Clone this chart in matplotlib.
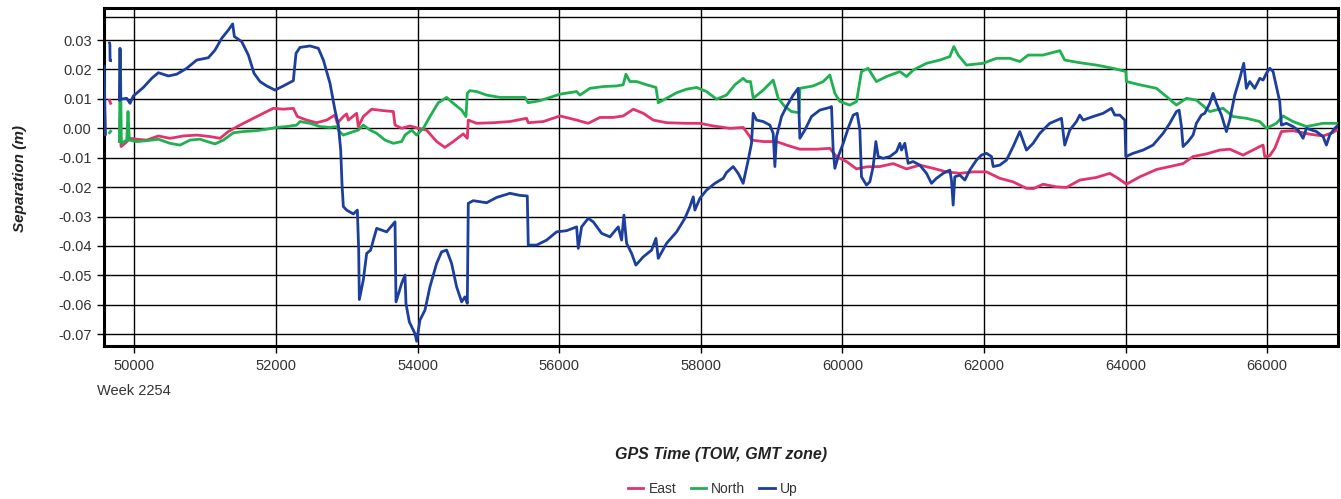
import numpy as np
import matplotlib
matplotlib.use("Agg")
import matplotlib.pyplot as plt

nan = np.nan

# GPS time of week (s) and separation (m) for each component
up_t = [49575, 49590, nan, 49650, 49655, 49658, 49665, nan,
        49789, 49798, 49808, 49893, 49940, 49987, 50128, 50246, 50340, 50481, 50599, 50740,
        50881, 51046, 51140, 51234, 51328, 51389, 51413, 51516, 51611, 51691, 51775, 51870,
        51987, 52105, 52246, 52284, 52340, 52481, 52599, 52670, 52764, 52834, 52882, 52915,
        52933, 52952, 52999, 53093, 53150, 53169, 53178, 53234, 53282, 53338, 53376, 53423,
        53493, 53564, 53682, 53696, 53776, 53823, 53837, 53884, 53964, 53988,
        54034, 54105, 54175, 54270, 54340, 54411, 54481, 54552, 54623, 54670, 54703, 54717,
        54787, 54976, 55117, 55305, 55446, 55550, 55564, 55682, 55823, 55964, 56105, 56247,
        56270, 56317, 56411, 56482, 56600, 56717, 56835, 56882, 56915, 56953, 57023, 57084,
        57188, 57306, 57367, 57400, 57517, 57659, 57776, 57847, 57894, 57917, 57988, 58082,
        58200, 58317, 58365,
        58458, 58529, 58599, 58670, 58717, 58741, 58788, 58882, 58976, 59023, 59047, 59070,
        59141, 59211, 59306, 59376, 59400, 59470, 59564, 59682, 59823, 59847, 59870, 59894,
        59941, 60012, 60082, 60153, 60209, 60247, 60270, 60341, 60388, 60435, 60473, 60506,
        60576, 60671, 60765, 60812, 60835, 60882, 60929, 60999, 61094, 61188, 61259, 61329,
        61424, 61518, 61541, 61565, 61588, 61659, 61730, 61800, 61894, 61965, 62036, 62106,
        62130, 62224, 62318, 62412, 62506, 62600, 62694, 62789,
        62929, 63094, 63141, 63212, 63306, 63353, 63400, 63541, 63683, 63800, 63847, 63918,
        63989, 64003, 64106, 64247, 64388, 64530, 64624, 64718, 64756, 64789, 64812, 64883,
        64953, 65000, 65071, 65118, 65189, 65236, 65283, 65354, 65424, 65471, 65542, 65613,
        65669, 65706, 65754, 65824, 65895, 65942, 65989, 66036, 66083, 66130, 66177, 66201,
        66271, 66365, 66436, 66507, 66554, 66695, 66789, 66836, 66883, 66954, 67001]
up_v = [0.021, -0.002, nan, 0.029, 0.0285, 0.023, 0.023, nan,
        0.0096, 0.0272, 0.0099, 0.0102, 0.0085, 0.0110, 0.0139, 0.0170, 0.0189, 0.0178, 0.0184, 0.0204,
        0.0232, 0.0240, 0.0266, 0.0306, 0.0334, 0.0355, 0.0312, 0.0295, 0.0249, 0.0187, 0.0159, 0.0144,
        0.0130, 0.0144, 0.0162, 0.0255, 0.0275, 0.0280, 0.0272, 0.0232, 0.0153, 0.0062, 0.0011, -0.0074,
        -0.0187, -0.0266, -0.0278, -0.0291, -0.0278, -0.0414, -0.0582, -0.0516, -0.0425, -0.0414, -0.0380, -0.0340,
        -0.0346, -0.0352, -0.0318, -0.0590, -0.0527, -0.0499, -0.0596, -0.0658, -0.0698, -0.0724,
        -0.0652, -0.0618, -0.0539, -0.0459, -0.0420, -0.0414, -0.0459, -0.0539, -0.0590, -0.0573, -0.0595, -0.0255,
        -0.0246, -0.0253, -0.0235, -0.0221, -0.0228, -0.0230, -0.0397, -0.0397, -0.0380, -0.0352, -0.0348, -0.0335,
        -0.0408, -0.0335, -0.0306, -0.0318, -0.0357, -0.0369, -0.0335, -0.0380, -0.0295, -0.0391, -0.0425, -0.0465,
        -0.0437, -0.0414, -0.0374, -0.0442, -0.0391, -0.0352, -0.0306, -0.0266, -0.0233, -0.0278, -0.0238, -0.0210,
        -0.0187, -0.0170, -0.0150,
        -0.0130, -0.0153, -0.0187, -0.0108, -0.0051, 0.0051, 0.0028, 0.0023, 0.0011, -0.0017, -0.0130, -0.0028,
        0.0040, 0.0074, 0.0113, 0.0136, -0.0034, -0.0006, 0.0040, 0.0062, 0.0071, 0.0074, -0.0074, -0.0136,
        -0.0096, -0.0051, 0.0000, 0.0045, 0.0051, -0.0006, -0.0165, -0.0193, -0.0182, -0.0130, -0.0045, -0.0096,
        -0.0102, -0.0096, -0.0079, -0.0051, -0.0074, -0.0051, -0.0119, -0.0113, -0.0125, -0.0153, -0.0187, -0.0170,
        -0.0153, -0.0142, -0.0176, -0.0261, -0.0165, -0.0159, -0.0176, -0.0142, -0.0108, -0.0091, -0.0085, -0.0096,
        -0.0130, -0.0125, -0.0108, -0.0062, -0.0011, -0.0074, -0.0051, -0.0017,
        0.0017, 0.0034, -0.0057, -0.0006, 0.0023, 0.0045, 0.0028, 0.0040, 0.0051, 0.0068, 0.0045, 0.0045,
        0.0028, -0.0096, -0.0085, -0.0074, -0.0057, -0.0017, 0.0017, 0.0057, 0.0062, 0.0006, -0.0062, -0.0045,
        -0.0023, 0.0017, 0.0045, 0.0051, 0.0085, 0.0119, 0.0085, 0.0045, -0.0011, 0.0028, 0.0113, 0.0170,
        0.0221, 0.0136, 0.0159, 0.0136, 0.0170, 0.0164, 0.0187, 0.0204, 0.0193, 0.0142, 0.0091, 0.0011,
        0.0017, 0.0006, -0.0006, -0.0034, 0.0000, -0.0011, -0.0028, -0.0057, -0.0023, 0.0000, 0.0011]

north_t = [49650, 49665, nan,
           49789, 49803, 49817, 49893, 49911, 49930, 50034, 50175, 50340, 50504, 50646, 50787,
           50928, 51069, 51140, 51258, 51399, 51540, 51728, 51870, 52011, 52152, 52293, 52340,
           52481, 52623, 52764, 52858, 52896, 52952, 53046, 53164, 53234, 53329, 53423, 53540,
           53658, 53776, 53823, 53917, 53987,
           54081, 54175, 54293, 54411, 54505, 54623, 54684, 54703, 54740, 54834, 54976, 55164,
           55352, 55517, 55564, 55729, 55870, 56011, 56247, 56294, 56435, 56623, 56811, 56905,
           56943, 57000, 57094, 57235, 57367, 57400, 57517, 57659, 57800, 57941, 58082, 58223,
           58364, 58482, 58599, 58647, 58703, 58741, 58882, 59023, 59094, 59188, 59282, 59390,
           59400, 59588, 59729, 59823, 59894, 59965, 60106, 60200, 60270, 60364, 60435, 60482,
           60623, 60812, 60906, 61000, 61188, 61377, 61518, 61574, 61636, 61753, 61988, 62177,
           62365, 62506, 62624, 62789, 62835, 63071, 63141, 63353, 63588, 63824, 64003, 64012,
           64200, 64436, 64577, 64718, 64859, 65000, 65189, 65377, 65518, 65706, 65895, 65989,
           66130, 66224, 66365, 66554, 66789, 67001]
north_v = [-0.0015, -0.001, nan,
           -0.0045, 0.0266, -0.0051, -0.0040, 0.0057, -0.0040, -0.0045, -0.0042, -0.0037, -0.0051, -0.0057, -0.0040,
           -0.0037, -0.0048, -0.0053, -0.0040, -0.0015, -0.0011, -0.0008, -0.0003, 0.0003, 0.0006, 0.0011, 0.0023,
           0.0017, 0.0006, 0.0003, 0.0006, -0.0011, -0.0023, -0.0015, -0.0006, 0.0011, -0.0006, -0.0017, -0.0040,
           -0.0051, -0.0045, -0.0023, -0.0006, -0.0023,
           0.0000, 0.0040, 0.0087, 0.0105, 0.0085, 0.0062, 0.0040, 0.0119, 0.0128, 0.0125, 0.0113, 0.0105,
           0.0105, 0.0105, 0.0087, 0.0094, 0.0105, 0.0116, 0.0125, 0.0113, 0.0136, 0.0142, 0.0144, 0.0148,
           0.0184, 0.0159, 0.0159, 0.0148, 0.0139, 0.0087, 0.0102, 0.0121, 0.0133, 0.0139, 0.0125, 0.0099,
           0.0113, 0.0148, 0.0170, 0.0159, 0.0159, 0.0102, 0.0130, 0.0164, 0.0102, 0.0074, 0.0057, 0.0053,
           0.0136, 0.0144, 0.0159, 0.0181, 0.0119, 0.0091, 0.0079, 0.0091, 0.0193, 0.0204, 0.0176, 0.0159,
           0.0176, 0.0193, 0.0176, 0.0198, 0.0221, 0.0232, 0.0244, 0.0278, 0.0249, 0.0215, 0.0221, 0.0238,
           0.0238, 0.0227, 0.0249, 0.0249, 0.0249, 0.0264, 0.0232, 0.0223, 0.0215, 0.0204, 0.0193, 0.0159,
           0.0148, 0.0136, 0.0108, 0.0079, 0.0102, 0.0096, 0.0057, 0.0068, 0.0040, 0.0034, 0.0023, 0.0000,
           0.0017, 0.0042, 0.0023, 0.0006, 0.0017, 0.0017]

east_t = [49575, 49590, nan, 49650, 49665, nan,
          49798, 49813, 49869, 49940, 50034, 50175, 50340, 50504, 50693, 50881, 51069, 51211,
          51328, 51493, 51681, 51870, 51964, 52105, 52246, 52303, 52434, 52575, 52717, 52834,
          52867, 52952, 52999, 53023, 53140, 53164, 53234, 53352, 53517, 53658, 53682, 53776,
          53893, 54011, 54128, 54270, 54387, 54505, 54646, 54703, 54717, 54834, 55070, 55305,
          55540, 55564, 55776, 56011, 56247, 56411, 56576, 56764, 56905, 57047, 57188, 57329,
          57517, 57800, 57988, 58176, 58411, 58599, 58694, 58717, 58882, 59070, 59211, 59400,
          59635, 59823, 59917, 60059, 60200, 60341, 60529, 60718, 60906, 61094, 61282, 61471,
          61659, 61848, 62036, 62224, 62412, 62600, 62700, 62835, 63024, 63165, 63353, 63588,
          63777, 63894, 64012, 64200, 64436, 64624, 64812, 64953, 65142, 65330, 65471, 65659,
          65895, 65942, 65965, 66036, 66107, 66201, 66365, 66601, 66789, 66930, 67001]
east_v = [0.0105, -0.002, nan, 0.0095, 0.0085, nan,
          0.0028, -0.0062, -0.0051, -0.0034, -0.0037, -0.0040, -0.0026, -0.0034, -0.0026, -0.0023, -0.0028, -0.0034,
          -0.0011, 0.0011, 0.0034, 0.0057, 0.0068, 0.0065, 0.0068, 0.0040, 0.0028, 0.0019, 0.0028, 0.0045,
          0.0017, 0.0040, 0.0049, 0.0028, 0.0051, 0.0006, 0.0040, 0.0065, 0.0060, 0.0057, 0.0011, 0.0000,
          0.0008, 0.0000, -0.0006, -0.0045, -0.0065, -0.0045, -0.0019, -0.0034, 0.0028, 0.0017, 0.0019, 0.0023,
          0.0034, 0.0019, 0.0023, 0.0042, 0.0028, 0.0017, 0.0037, 0.0037, 0.0042, 0.0065, 0.0051, 0.0028,
          0.0019, 0.0017, 0.0017, 0.0008, 0.0000, 0.0003, -0.0028, -0.0040, -0.0045, -0.0045, -0.0057, -0.0071,
          -0.0071, -0.0068, -0.0096, -0.0113, -0.0138, -0.0131, -0.0130, -0.0120, -0.0138, -0.0125, -0.0136, -0.0148,
          -0.0153, -0.0148, -0.0148, -0.0170, -0.0182, -0.0204, -0.0205, -0.0190, -0.0199, -0.0201, -0.0176, -0.0167,
          -0.0153, -0.0170, -0.0190, -0.0165, -0.0140, -0.0130, -0.0120, -0.0096, -0.0087, -0.0074, -0.0071, -0.0091,
          -0.0062, -0.0057, -0.0096, -0.0093, -0.0068, -0.0011, -0.0008, -0.0020, -0.0026, -0.0014, -0.0003]

x_ticks = list(range(50000, 66001, 2000))
y_ticks = [-0.07, -0.06, -0.05, -0.04, -0.03, -0.02, -0.01, 0.00, 0.01, 0.02, 0.03]

plt.rcParams['font.family'] = ['Liberation Sans', 'DejaVu Sans']

fig = plt.figure(figsize=(13.41, 4.99), dpi=100)
ax = fig.add_axes([104 / 1341, 1 - 346 / 499, (1338 - 104) / 1341, (346 - 8) / 499])

ax.plot(east_t, east_v, color='#e2336b', lw=2.0, label='East', zorder=3)
ax.plot(north_t, north_v, color='#1fb04f', lw=2.0, label='North', zorder=3)
ax.plot(up_t, up_v, color='#1c3f9e', lw=2.0, label='Up', zorder=4)

ax.set_xlim(49572, 67000)
ax.set_ylim(-0.0740, 0.0409)
ax.set_xticks(x_ticks)
ax.set_yticks(y_ticks)
ax.set_yticklabels([f"{v:.2f}" for v in y_ticks])
ax.grid(True, color='black', lw=1.0, zorder=1)
ax.axhline(0.0379, color='black', lw=1.0, zorder=1)
ax.tick_params(direction='out', length=5, width=1, colors='black', labelsize=10.5, pad=4)
ax.tick_params(labelcolor='#333333')
for s in ax.spines.values():
    s.set_linewidth(2.2)
    s.set_color('black')

fig.text(97 / 1341, 1 - 391 / 499, "Week 2254", fontsize=10.5, color='#333333', ha='left', va='center')
fig.text(20 / 1341, 1 - 179 / 499, "Separation (m)", rotation=90, fontsize=11,
         fontweight='bold', fontstyle='italic', color='#222222', ha='center', va='center')
fig.text(721 / 1341, 1 - 455 / 499, "GPS Time (TOW, GMT zone)", fontsize=11.5,
         fontweight='bold', fontstyle='italic', color='#222222', ha='center', va='center')
fig.legend(loc='center', bbox_to_anchor=(713 / 1341, 1 - 489 / 499), ncol=3, frameon=False,
           fontsize=10, handlelength=1.1, columnspacing=1.0, handletextpad=0.4,
           labelcolor='#333333')

fig.savefig("out.png", dpi=100)
